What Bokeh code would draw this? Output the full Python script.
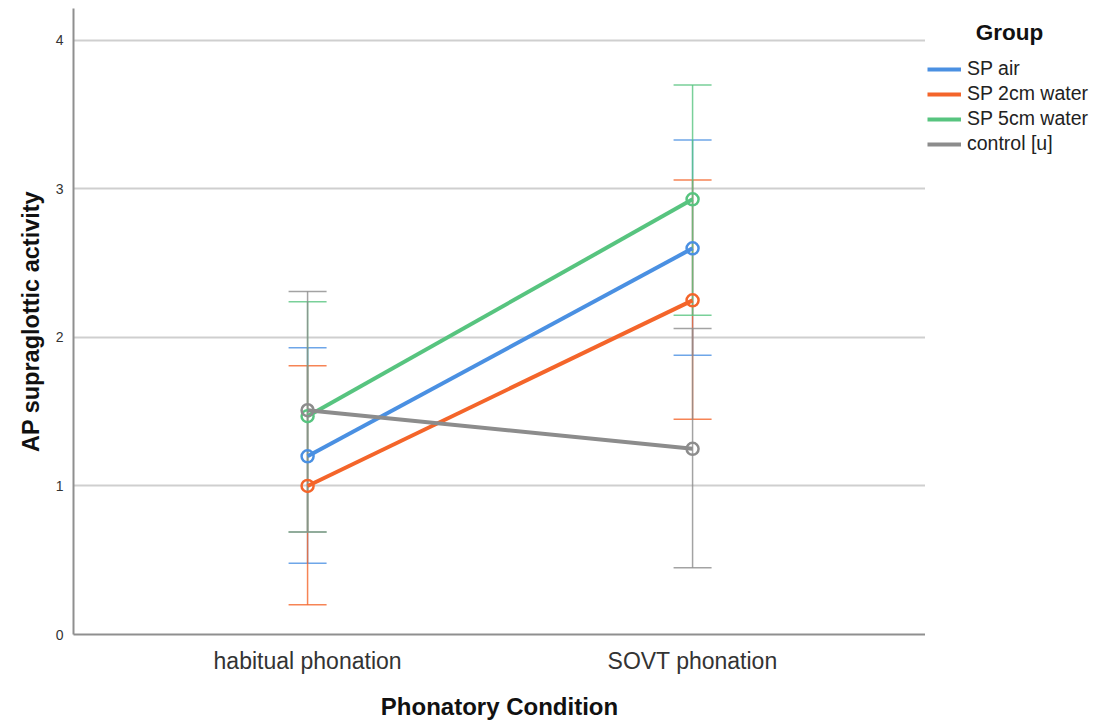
from bokeh.plotting import figure
from bokeh.models import (Range1d, FixedTicker, Legend, LegendItem, Whisker, TeeHead,
                          ColumnDataSource, Label)
from bokeh.layouts import row
from bokeh.embed import file_html
from bokeh.resources import INLINE

conditions = ["habitual phonation", "SOVT phonation"]
groups = ["SP air", "SP 2cm water", "SP 5cm water", "control [u]"]
colors = ["#4a90e2", "#f4652a", "#57c47f", "#8c8c8c"]

sp_air_mean = [1.20, 2.60]
sp_air_lo = [0.48, 1.88]
sp_air_hi = [1.93, 3.33]

sp_2cm_mean = [1.00, 2.25]
sp_2cm_lo = [0.20, 1.45]
sp_2cm_hi = [1.81, 3.06]

sp_5cm_mean = [1.47, 2.93]
sp_5cm_lo = [0.69, 2.15]
sp_5cm_hi = [2.24, 3.70]

control_mean = [1.51, 1.25]
control_lo = [0.69, 0.45]
control_hi = [2.31, 2.06]

y_ticks = [0, 1, 2, 3, 4]

FONT = "Liberation Sans"
xs = [i + 1 for i in range(len(conditions))]
Y_END = 4.215

p = figure(width=925, height=726, output_backend="svg", toolbar_location=None,
           x_range=Range1d(0.392, 2.605), y_range=Range1d(0, Y_END),
           min_border_left=73, min_border_right=0, min_border_top=8,
           min_border_bottom=92)
p.outline_line_color = None
p.background_fill_color = "white"

# axes
p.xaxis.ticker = FixedTicker(ticks=xs)
p.xaxis.major_label_overrides = {x: c for x, c in zip(xs, conditions)}
p.yaxis.ticker = FixedTicker(ticks=y_ticks)
for ax in (p.xaxis, p.yaxis):
    ax.major_tick_line_color = None
    ax.minor_tick_line_color = None
    ax.major_tick_out = 0
    ax.major_tick_in = 0
    ax.axis_line_color = "#8f8f8f"
    ax.axis_line_width = 2
    ax.major_label_text_font = FONT
    ax.axis_label_text_font = FONT
    ax.axis_label_text_font_style = "bold"
    ax.axis_label_text_color = "#111111"
    ax.major_label_text_color = "#333333"

p.xaxis.axis_label = "Phonatory Condition"
p.xaxis.axis_label_text_font_size = "24px"
p.xaxis.major_label_text_font_size = "23px"
p.xaxis.major_label_standoff = 13
p.xaxis.axis_label_standoff = 16

p.yaxis.axis_label = "AP supraglottic activity"
p.yaxis.axis_label_text_font_size = "23.5px"
p.yaxis.major_label_text_font_size = "14px"
p.yaxis.major_label_standoff = 10
p.yaxis.axis_label_standoff = 9

p.xgrid.grid_line_color = None
p.ygrid.grid_line_color = "#cfcfcf"
p.ygrid.grid_line_width = 2

series = [
    (sp_air_mean, sp_air_lo, sp_air_hi),
    (sp_2cm_mean, sp_2cm_lo, sp_2cm_hi),
    (sp_5cm_mean, sp_5cm_lo, sp_5cm_hi),
    (control_mean, control_lo, control_hi),
]

# error bars
for (m, lo, hi), col in zip(series, colors):
    src = ColumnDataSource(dict(x=xs, lower=lo, upper=hi))
    w = Whisker(source=src, base="x", lower="lower", upper="upper", dimension="height",
                line_color=col, line_width=1.5, line_alpha=0.8,
                upper_head=TeeHead(size=38, line_color=col, line_width=1.5, line_alpha=0.8),
                lower_head=TeeHead(size=38, line_color=col, line_width=1.5, line_alpha=0.8))
    p.add_layout(w)

for (m, lo, hi), col in zip(series, colors):
    src = ColumnDataSource(dict(x=xs, y=m))
    p.line("x", "y", source=src, line_color=col, line_width=4)
    p.scatter("x", "y", source=src, marker="circle", size=12, fill_color=None,
              line_color=col, line_width=2.5)

# legend panel as a separate figure to the right (same vertical borders as the chart)
p2 = figure(width=170, height=726, output_backend="svg", toolbar_location=None,
            x_range=Range1d(0, 170), y_range=Range1d(0, Y_END),
            x_axis_type=None, y_axis_type=None,
            min_border_left=0, min_border_right=0, min_border_top=8, min_border_bottom=92)
p2.outline_line_color = None
p2.xgrid.grid_line_color = None
p2.ygrid.grid_line_color = None

items = []
for (m, lo, hi), col, g in zip(series, colors, groups):
    # proxy renderer kept outside the visible range; only its legend swatch shows
    r = p2.line(x=[-100, -50], y=m, line_color=col, line_width=4)
    items.append(LegendItem(label=g, renderers=[r]))

legend = Legend(items=items, location=(2, 479), padding=0, margin=0, spacing=2,
                glyph_width=34, glyph_height=20, label_height=20, label_standoff=6,
                label_text_font=FONT, label_text_font_size="19.5px",
                label_text_color="#222222",
                border_line_color=None, background_fill_alpha=0)
p2.add_layout(legend, "center")

p2.add_layout(Label(x=84, y=4.054, text="Group", text_font=FONT, text_font_size="22.5px",
                    text_font_style="bold", text_align="center", text_baseline="middle",
                    text_color="#111111"))

open("out.html", "w").write(file_html(row(p, p2, spacing=0), INLINE))
